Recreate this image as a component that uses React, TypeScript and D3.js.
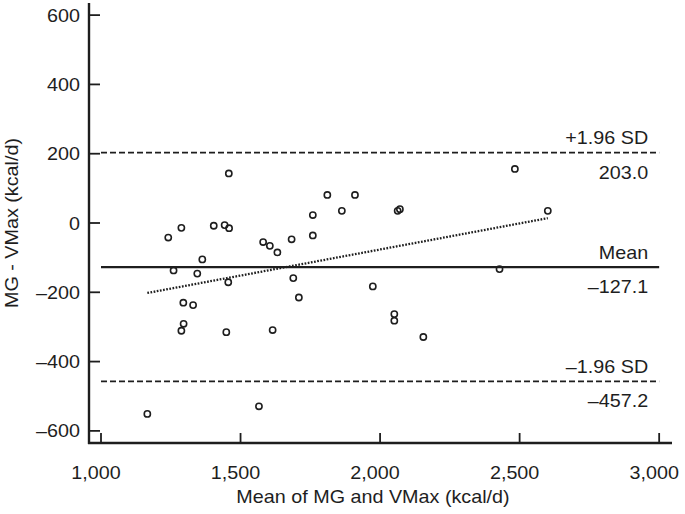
import React from "react";
import * as d3 from "d3";

// Bland-Altman data: mean of MG and VMax (x) vs difference MG - VMax (y)
const meanValues = [
  1166, 1241, 1260, 1288, 1288, 1296, 1295, 1330, 1345, 1363,
  1404, 1443, 1449, 1456, 1458, 1459, 1566, 1581, 1605, 1615,
  1632, 1683, 1689, 1709, 1759, 1759, 1811, 1863, 1910, 1974,
  2051, 2051, 2063, 2071, 2155, 2428, 2483, 2601,
];
const diffValues = [
  -551, -42, -137, -14, -311, -291, -230, -237, -146, -105,
  -8, -6, -315, -171, 143, -15, -529, -55, -66, -309,
  -85, -47, -159, -215, 23, -36, 81, 35, 81, -183,
  -263, -282, 35, 40, -329, -133, 156, 35,
];
const regressionX = [1166, 2601];
const regressionY = [-202, 14];

const refLines = [
  { label: "+1.96 SD", valueText: "203.0", value: 203.0, kind: "dash" },
  { label: "Mean", valueText: "\u2013127.1", value: -127.1, kind: "solid" },
  { label: "\u20131.96 SD", valueText: "\u2013457.2", value: -457.2, kind: "dash" },
];

const xTicks = [1000, 1500, 2000, 2500, 3000];
const yTicks = [-600, -400, -200, 0, 200, 400, 600];
const xTitle = "Mean of MG and VMax (kcal/d)";
const yTitle = "MG - VMax (kcal/d)";

const W = 685;
const H = 514;
const INK = "#1e1e1e";
const FONT = "'Liberation Sans', Arial, Helvetica, sans-serif";
const FS = 17.8;
const SX = 1.11;

function fmtX(v: number) {
  return d3.format(",")(v);
}
function fmtY(v: number) {
  return v < 0 ? "\u2013" + Math.abs(v) : String(v);
}

function T({ x, y, anchor = "start", rotate = 0, children }: any) {
  return (
    <text
      transform={`translate(${x},${y}) rotate(${rotate}) scale(${SX},1)`}
      textAnchor={anchor}
      fontFamily={FONT}
      fontSize={FS}
      fill={INK}
    >
      {children}
    </text>
  );
}

export default function App() {
  const x = d3.scaleLinear().domain([957, 3046]).range([89, 672]);
  const y = d3.scaleLinear().domain([-635, 635]).range([443, 3]);
  const x0 = x.range()[0];
  const y0 = y.range()[0];
  const lineX1 = x(1000);
  const lineX2 = x(3000);
  const labelRight = x(3000) - 11;

  const reg = d3
    .line<number>()
    .x((d) => x(regressionX[d]))
    .y((d) => y(regressionY[d]));

  return (
    <svg
      width={W}
      height={H}
      style={{ position: "absolute", left: 0, top: 0, background: "#fff" }}
    >
      {/* reference lines */}
      {refLines.map((r) => (
        <g key={r.label}>
          <line
            x1={lineX1}
            x2={lineX2}
            y1={y(r.value)}
            y2={y(r.value)}
            stroke={INK}
            strokeWidth={r.kind === "solid" ? 2.2 : 1.8}
            strokeDasharray={r.kind === "dash" ? "6,3" : undefined}
          />
          <T x={labelRight} y={y(r.value) - 8.5} anchor="end">
            {r.label}
          </T>
          <T x={labelRight} y={y(r.value) + 26} anchor="end">
            {r.valueText}
          </T>
        </g>
      ))}

      {/* regression line */}
      <path
        d={reg([0, 1]) || ""}
        fill="none"
        stroke={INK}
        strokeWidth={2.3}
        strokeDasharray="1.7,1.5"
      />

      {/* points */}
      {meanValues.map((m, i) => (
        <circle
          key={i}
          cx={x(m)}
          cy={y(diffValues[i])}
          r={3.1}
          fill="none"
          stroke={INK}
          strokeWidth={1.6}
        />
      ))}

      {/* axes */}
      <line x1={x0} x2={x0} y1={y.range()[1]} y2={y0 + 1} stroke={INK} strokeWidth={2.4} />
      <line x1={x0 - 1} x2={x.range()[1]} y1={y0} y2={y0} stroke={INK} strokeWidth={2.4} />

      {yTicks.map((t) => (
        <g key={"y" + t}>
          <line x1={x0} x2={x0 + 11} y1={y(t)} y2={y(t)} stroke={INK} strokeWidth={1.8} />
          <T x={x0 - 9} y={y(t) + 6.5} anchor="end">
            {fmtY(t)}
          </T>
        </g>
      ))}

      {xTicks.map((t) => (
        <g key={"x" + t}>
          <line x1={x(t)} x2={x(t)} y1={y0} y2={y0 - 10} stroke={INK} strokeWidth={1.8} />
          <T x={x(t) - 5} y={y0 + 36} anchor="middle">
            {fmtX(t)}
          </T>
        </g>
      ))}

      <T x={373} y={503} anchor="middle">
        {xTitle}
      </T>
      <T x={18} y={(y.range()[0] + y.range()[1]) / 2} anchor="middle" rotate={-90}>
        {yTitle}
      </T>
    </svg>
  );
}
